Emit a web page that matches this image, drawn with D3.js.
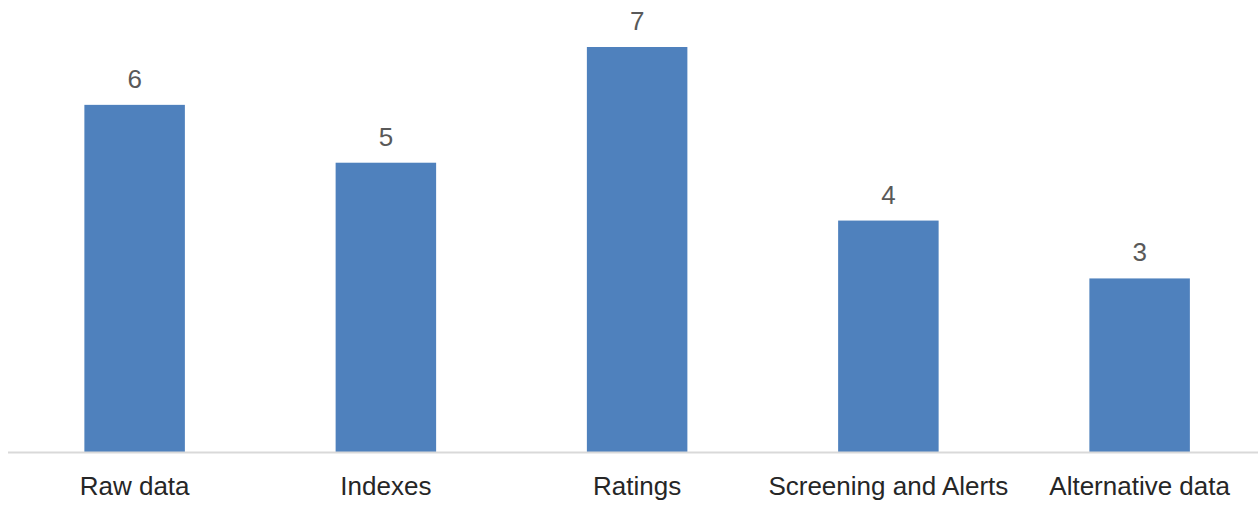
<!DOCTYPE html>
<html>
<head>
<meta charset="utf-8">
<script src="https://cdn.jsdelivr.net/npm/d3@7"></script>
<style>
  html, body { margin: 0; padding: 0; background: #fff; }
  svg { display: block; }
</style>
</head>
<body>
<svg id="chart" width="1258" height="505"></svg>
<script>
// Number of offerings per data category
const categories = ["Raw data", "Indexes", "Ratings", "Screening and Alerts", "Alternative data"];
const counts = [6, 5, 7, 4, 3];

const W = 1258, H = 505;
const baseline = 452;
const svg = d3.select("#chart");

const x = d3.scaleBand()
  .domain(categories)
  .range([9, 1265.25])
  .paddingInner(0.6)
  .paddingOuter(0.3);

const y = d3.scaleLinear()
  .domain([0, 7])
  .range([baseline, 47]);

// Bars
svg.append("g")
  .selectAll("rect")
  .data(categories)
  .join("rect")
  .attr("x", d => x(d))
  .attr("y", (d, i) => y(counts[i]))
  .attr("width", x.bandwidth())
  .attr("height", (d, i) => baseline - y(counts[i]))
  .attr("fill", "#4f81bd");

// Value labels above bars
svg.append("g")
  .selectAll("text")
  .data(categories)
  .join("text")
  .attr("x", d => x(d) + x.bandwidth() / 2)
  .attr("y", (d, i) => y(counts[i]) - 17)
  .attr("text-anchor", "middle")
  .attr("font-family", "Liberation Sans, Arial, sans-serif")
  .attr("font-size", 26)
  .attr("fill", "#595959")
  .text((d, i) => counts[i]);

// Category axis
const axis = svg.append("g")
  .attr("transform", `translate(0,${baseline})`)
  .call(d3.axisBottom(x).tickSize(0).tickPadding(0));
axis.select(".domain").remove();
axis.append("line")
  .attr("x1", 8).attr("x2", W)
  .attr("y1", 0.5).attr("y2", 0.5)
  .attr("stroke", "#d9d9d9")
  .attr("stroke-width", 2);
axis.selectAll(".tick text")
  .attr("y", 43)
  .attr("dy", 0)
  .attr("font-family", "Liberation Sans, Arial, sans-serif")
  .attr("font-size", 26)
  .attr("fill", "#262626");
</script>
</body>
</html>
